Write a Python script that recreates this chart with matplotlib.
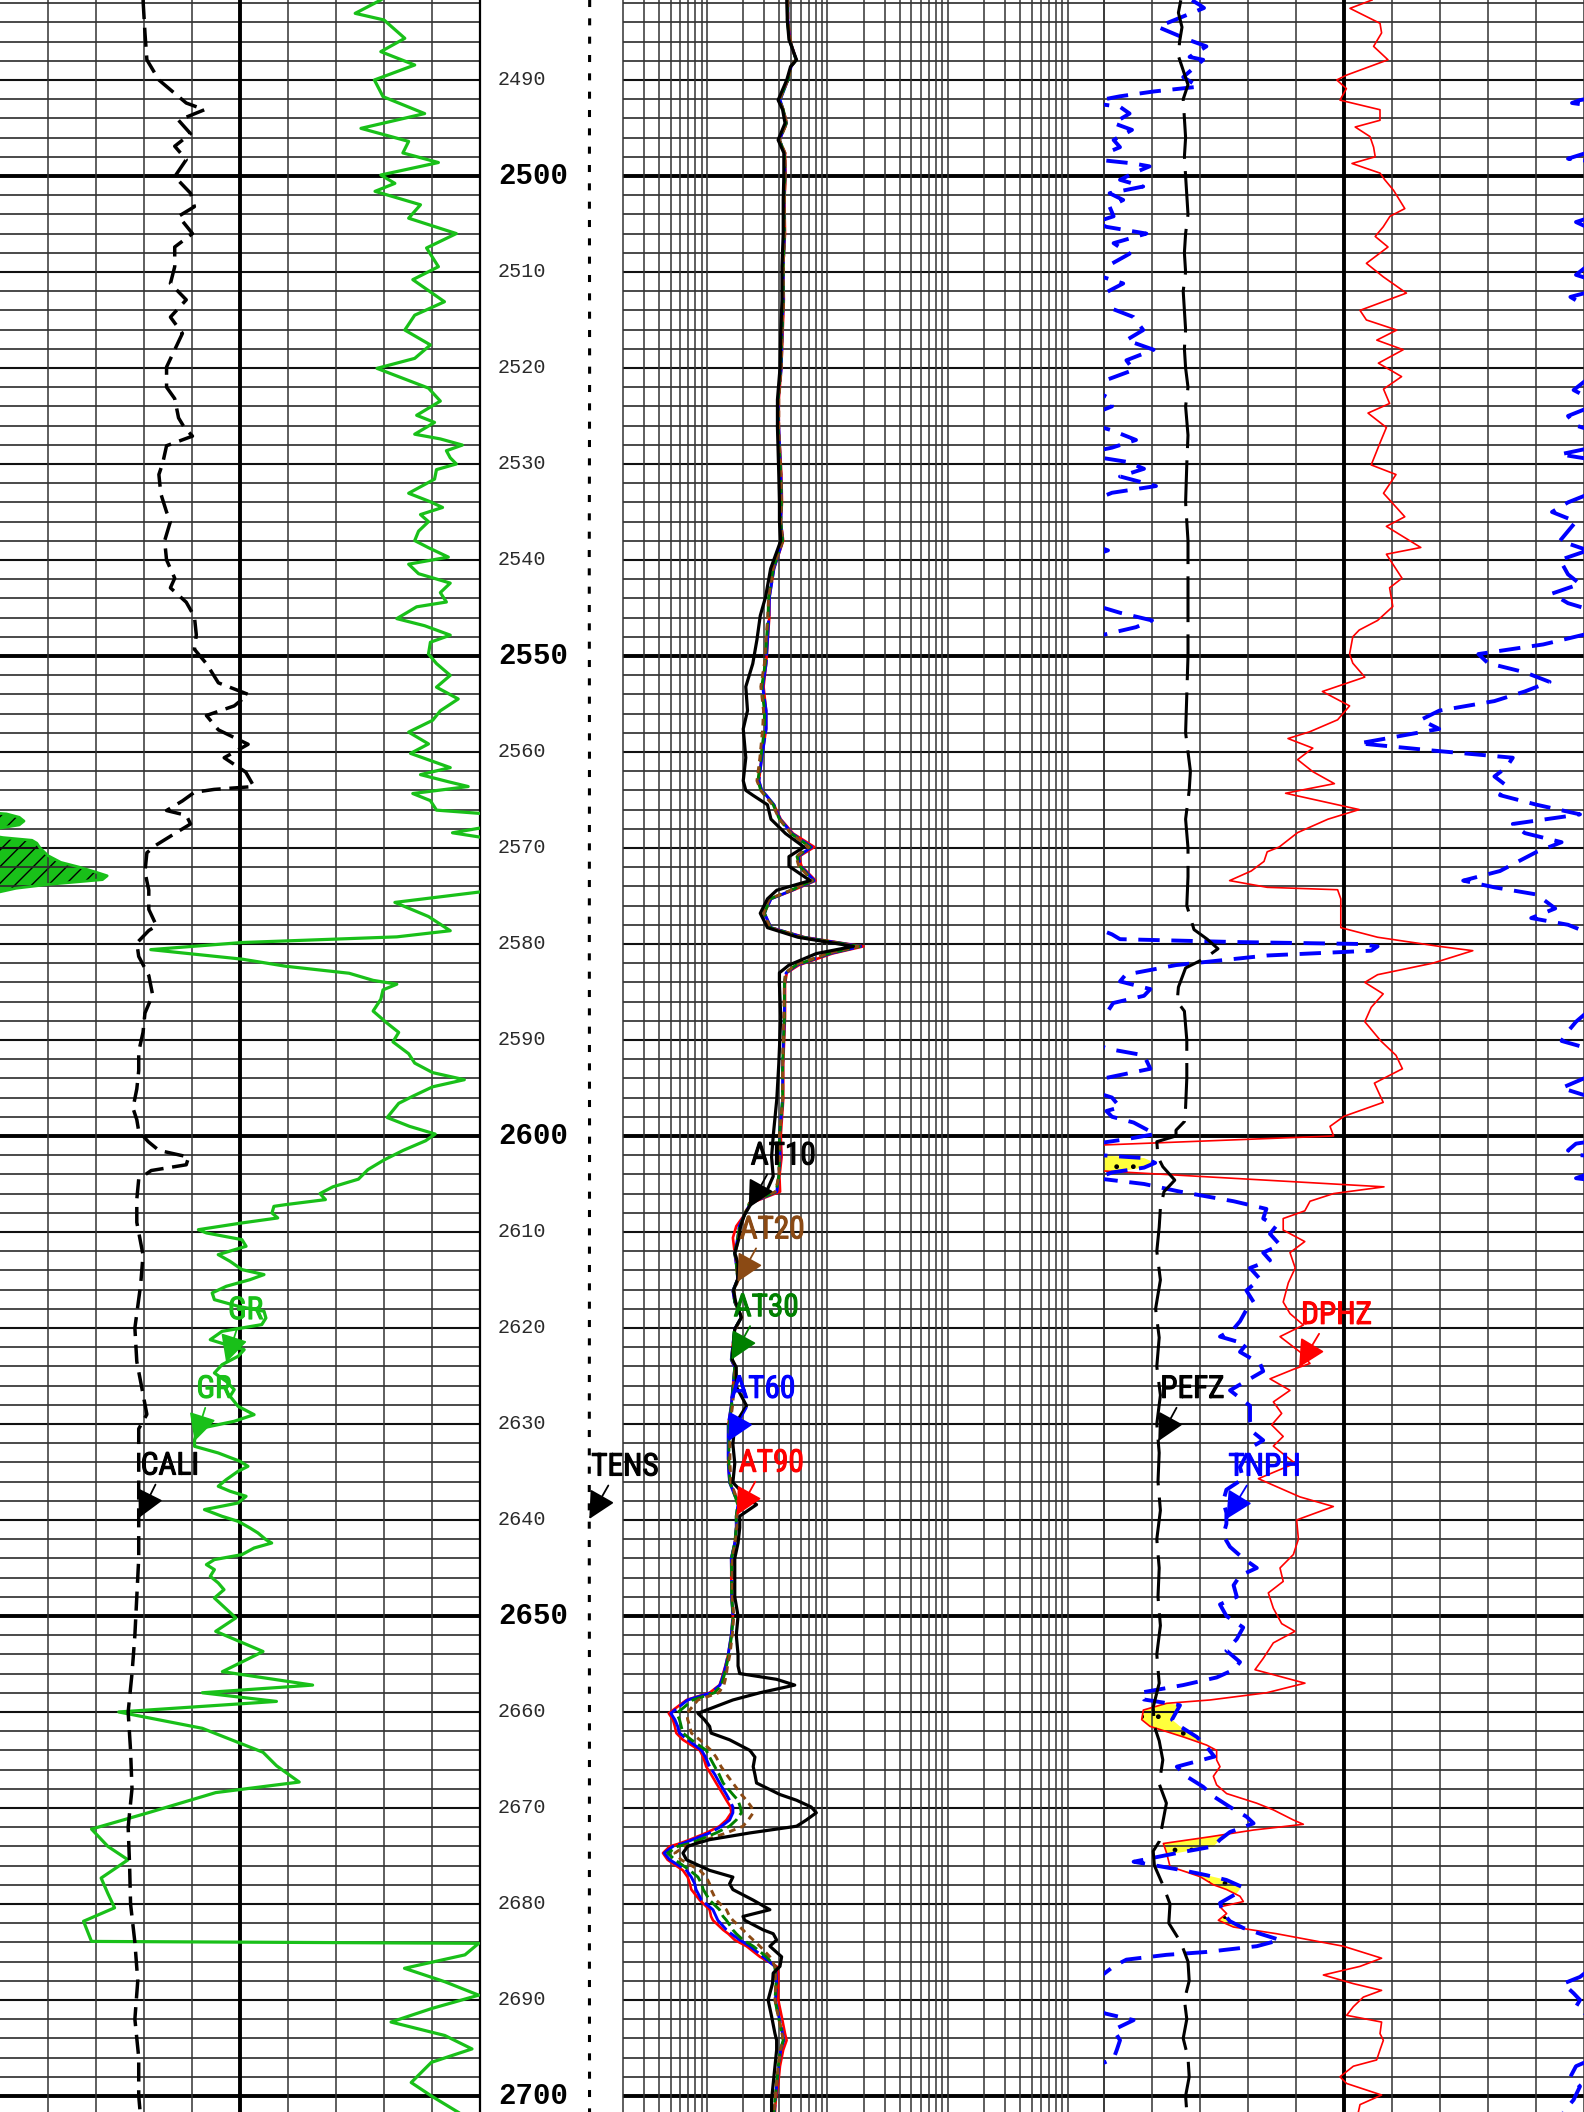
import os
import numpy as np
import matplotlib
matplotlib.use("Agg")
import matplotlib.pyplot as plt
import matplotlib.patheffects as pe
from matplotlib import font_manager
from matplotlib.font_manager import FontProperties

# ---------------- data ----------------
DEPTH_TOP = 2481.67
DEPTH_BOT = 2701.67

GR_SCALE = (0, 150)
CALI_SCALE = (6, 16)
RES_SCALE = (0.2, 2000)
POR_SCALE = (0.45, -0.15)
PEF_SCALE = (0, 20)
TENS_SCALE = (0, 10000)

GR_DEPTH = [2481.67, 2483.06, 2483.75, 2485.66, 2487.05, 2488.44, 2490.0, 2491.74, 2493.5, 2495.04,
            2496.4, 2497.6, 2498.6, 2499.9, 2500.77, 2501.6, 2503.0, 2504.4, 2506.0, 2507.5,
            2509.45, 2510.8, 2513.1, 2514.5, 2516.05, 2517.6, 2519.0, 2520.04, 2522.1, 2523.45,
            2524.93, 2525.67, 2526.9, 2527.39, 2528.03, 2528.62, 2529.36, 2530.0, 2530.59, 2531.58,
            2533.05, 2533.94, 2534.53, 2535.27, 2536.01, 2537.0, 2537.98, 2538.72, 2539.7, 2540.44,
            2541.43, 2541.92, 2542.41, 2543.4, 2544.38, 2544.88, 2546.11, 2546.85, 2547.83, 2548.57,
            2549.8, 2550.79, 2552.02, 2553.25, 2554.48, 2555.71, 2556.7, 2557.93, 2559.16, 2560.15,
            2561.63, 2562.36, 2563.1, 2563.6, 2564.33, 2565.07, 2566.06, 2566.45, 2566.8, 2567.2,
            2567.6, 2567.9, 2568.42, 2568.92, 2569.2, 2569.5, 2570.0, 2570.8, 2571.5, 2572.0,
            2572.5, 2572.9, 2573.3, 2573.8, 2574.2, 2574.58, 2575.67, 2577.14, 2578.62, 2579.26,
            2579.85, 2580.59, 2581.58, 2582.32, 2583.05, 2583.79, 2584.19, 2584.78, 2585.76, 2586.99,
            2588.23, 2589.21, 2590.2, 2591.43, 2592.41, 2593.4, 2594.14, 2594.88, 2595.86, 2596.6,
            2598.08, 2599.0, 2599.8, 2600.5, 2601.5, 2602.5, 2603.5, 2604.5, 2605.3, 2606.0,
            2606.63, 2607.15, 2607.33, 2608.02, 2608.54, 2609.06, 2609.76, 2610.1, 2610.8, 2611.49,
            2612.36, 2613.06, 2613.92, 2614.44, 2614.97, 2615.66, 2616.35, 2617.05, 2617.74, 2618.26,
            2618.96, 2619.65, 2620.35, 2621.22, 2621.74, 2622.26, 2622.95, 2623.82, 2624.69, 2625.56,
            2626.42, 2627.12, 2628.16, 2629.03, 2629.72, 2630.42, 2630.94, 2631.63, 2632.33, 2633.02,
            2633.89, 2634.41, 2634.93, 2635.8, 2636.49, 2637.01, 2637.53, 2638.23, 2638.92, 2639.62,
            2640.14, 2640.83, 2641.35, 2642.05, 2642.4, 2642.92, 2643.61, 2644.13, 2644.65, 2645.17,
            2645.87, 2646.56, 2647.26, 2648.13, 2650.2, 2651.6, 2653.7, 2655.8, 2657.2, 2658.0,
            2658.9, 2660.0, 2661.7, 2664.2, 2665.6, 2667.3, 2668.4, 2670.5, 2672.2, 2674.0,
            2675.4, 2677.3, 2678.9, 2680.4, 2681.8, 2683.9, 2684.1, 2685.3, 2686.7, 2688.1,
            2689.5, 2690.9, 2692.3, 2693.7, 2695.1, 2696.5, 2698.6, 2700.0, 2701.7]
GR = [119, 111, 120, 126.5, 119, 129.6, 117, 119.7, 132.7, 112.8,
      127.7, 125.9, 137, 119, 123.4, 117.2, 131.4, 127.7, 142.6, 133.3,
      137, 129, 138.9, 129.6, 126.5, 134.5, 129.6, 117.8, 133.9, 137.6,
      130.2, 135.8, 129.6, 137.6, 144.5, 139.5, 140.7, 142.6, 136.4, 135.8,
      127.7, 134.5, 138.3, 131.4, 133.9, 130.8, 129.6, 133.9, 140.1, 127.7,
      130.8, 135.8, 140.7, 137.6, 139.5, 130.2, 124, 132.7, 140.7, 134.5,
      133.9, 136.4, 140.7, 136.4, 143.2, 137.6, 135.2, 127.7, 133.9, 128.3,
      140.7, 131.4, 140.1, 146.3, 129, 134.5, 136.4, 152, 156, 157.5,
      156, 150.5, 141.4, 151, 160, 161.5, 162.5, 165, 169, 174.8,
      179.8, 183.5, 182, 165, 155, 150, 123.4, 133.9, 140.7, 124,
      75.6, 47.1, 75.6, 89.3, 109.1, 116.6, 124, 119.7, 119, 116.6,
      120.9, 124.6, 122.8, 127.7, 129.6, 135.2, 145.1, 135.2, 129, 124.6,
      121, 128, 136, 133, 126, 120, 115, 112, 104, 100,
      101.7, 89.3, 85.6, 85, 86.8, 75.6, 62, 64.5, 75.6, 76.9,
      68.2, 71.9, 75.6, 82.5, 78.1, 70.7, 66.3, 67, 74.4, 82.5,
      83.1, 81.8, 69.4, 65.7, 70.7, 76.3, 74.4, 69.4, 67, 70.7,
      73.2, 71.9, 74.4, 79.4, 73.2, 63.2, 61.4, 60.8, 60.8, 68.2,
      75, 77.5, 74.4, 70.7, 68.2, 71.9, 76.9, 74.4, 63.9, 69.4,
      74.4, 78.1, 80.6, 83.1, 84.9, 79.4, 75.6, 67, 64.5, 67,
      65.7, 68.2, 70, 67, 73.7, 67.4, 82.2, 69.5, 97.7, 63.2,
      86.4, 37.1, 63.2, 82.2, 86.4, 93.5, 67.4, 46.3, 28.6, 33.7,
      40, 31.6, 33.7, 35.8, 26.1, 28.6, 149.6, 145.3, 126.4, 139,
      149.6, 134.8, 122.2, 139, 147.5, 134.8, 128.5, 134.8, 143.2]

CALI_DEPTH = [2481.67, 2485.1, 2487.9, 2490.0, 2491.4, 2492.4, 2493.1, 2494.2, 2495.6, 2496.9,
              2498.3, 2500.07, 2501.8, 2503.2, 2504.2, 2506.0, 2507.4, 2509.45, 2511.2, 2512.9,
              2514.7, 2516.4, 2518.1, 2519.9, 2522.0, 2523.2, 2525.2, 2526.2, 2527.1, 2528.1,
              2529.9, 2531.1, 2533.1, 2535.0, 2536.0, 2538.0, 2540.0, 2541.9, 2542.9, 2544.4,
              2545.9, 2547.8, 2549.3, 2550.8, 2552.8, 2554.0, 2555.2, 2556.2, 2557.7, 2559.2,
              2560.6, 2562.1, 2563.6, 2563.9, 2564.2, 2565.1, 2566.1, 2566.6, 2567.5, 2568.5,
              2569.8, 2570.5, 2572.5, 2574.4, 2576.4, 2578.1, 2578.6, 2579.9, 2581.3, 2583.3,
              2585.3, 2587.2, 2589.2, 2591.2, 2593.2, 2595.1, 2597.1, 2598.3, 2599.5, 2600.6,
              2601.5, 2602.2, 2603.0, 2603.6, 2604.5, 2606.6, 2609.0, 2612.4, 2615.5, 2620.0,
              2623.5, 2629.0, 2630.5, 2634.0, 2639.0, 2644.0, 2648.0, 2652.0, 2656.0, 2660.0,
              2664.0, 2668.0, 2672.0, 2676.0, 2680.0, 2684.0, 2688.0, 2692.0, 2696.0, 2700.0, 2701.7]
CALI = [8.98, 9.02, 9.06, 9.31, 9.64, 9.88, 10.26, 9.72, 9.97, 9.64,
        9.88, 9.64, 9.97, 10.05, 9.72, 10.01, 9.64, 9.64, 9.55, 9.88,
        9.55, 9.80, 9.64, 9.47, 9.47, 9.64, 9.72, 9.84, 10.01, 9.47,
        9.39, 9.31, 9.35, 9.47, 9.55, 9.43, 9.47, 9.64, 9.55, 9.88,
        10.05, 10.09, 10.05, 10.30, 10.55, 11.17, 10.88, 10.30, 10.55, 11.17,
        10.67, 11.12, 11.29, 10.46, 10.05, 9.80, 9.47, 9.88, 9.97, 9.64,
        9.22, 9.06, 9.02, 9.10, 9.10, 9.26, 9.10, 8.85, 8.89, 9.10,
        9.18, 9.02, 8.98, 8.89, 8.89, 8.85, 8.77, 8.85, 8.89, 9.09,
        9.31, 9.93, 9.88, 9.15, 8.89, 8.85, 8.85, 8.98, 8.93, 8.81,
        8.85, 9.06, 8.89, 8.89, 8.89, 8.89, 8.85, 8.81, 8.75, 8.67,
        8.72, 8.75, 8.67, 8.70, 8.72, 8.81, 8.87, 8.81, 8.89, 8.89, 8.92]

TENS_DEPTH = [2481.67, 2500, 2520, 2540, 2560, 2580, 2600, 2620, 2640, 2660, 2680, 2701.7]
TENS = [7670, 7650, 7665, 7640, 7655, 7645, 7660, 7650, 7640, 7655, 7650, 7660]

RES_DEPTH = [2481.7, 2483.8, 2485.8, 2487.9, 2488.6, 2490.0, 2492.1, 2493.1, 2494.5, 2496.25,
             2497.6, 2500.0, 2502.5, 2506.0, 2509.4, 2512.9, 2516.4, 2519.9, 2523.3, 2526.2,
             2531.1, 2534.0, 2536.0, 2538.0, 2540.9, 2543.9, 2545.8, 2548.3, 2550.8, 2553.2,
             2555.7, 2557.6, 2560.6, 2563.0, 2564.0, 2564.5, 2565.5, 2567.0, 2568.5, 2569.9,
             2570.9, 2571.9, 2573.4, 2574.4, 2575.3, 2576.8, 2578.3, 2579.3, 2580.25, 2581.0,
             2582.2, 2583.0, 2584.2, 2587.6, 2592.5, 2596.2,
             2600.0, 2602.2, 2604.2, 2605.8, 2607.0, 2608.2, 2609.4, 2610.6, 2612.2, 2613.3,
             2614.9, 2616.1, 2617.3, 2618.9, 2620.1, 2621.7, 2623.3, 2624.1, 2626.1, 2628.1,
             2630.1, 2632.1, 2634.1, 2636.1, 2637.6, 2638.4, 2639.6, 2640.8, 2642.4, 2644.0,
             2646.0, 2648.0, 2650.0, 2652.0, 2654.0, 2655.2, 2656.0, 2656.6, 2657.2, 2658.0,
             2658.75, 2660.14, 2660.8, 2661.5, 2662.2, 2662.9, 2664.0, 2664.7, 2665.7, 2666.5,
             2667.4, 2668.6, 2669.2, 2669.9, 2670.5, 2671.25, 2671.9, 2672.6, 2673.3, 2673.7,
             2674.0, 2674.7, 2675.4, 2676.5, 2677.2, 2677.9, 2678.5, 2679.6, 2680.6, 2681.3,
             2681.7, 2682.7, 2683.1, 2683.75, 2684.4, 2685.5, 2686.5, 2687.2, 2688.3, 2690.0,
             2691.7, 2693.5, 2694.2, 2695.2, 2696.9, 2698.7, 2700.4, 2701.7]
AT90 = [4.7, 4.7, 4.9, 5.5, 5.0, 4.7, 4.0, 4.3, 4.6, 4.0,
        4.45, 4.5, 4.4, 4.45, 4.3, 4.35, 4.25, 4.15, 3.95, 3.95,
        4.15, 4.2, 4.1, 4.3, 3.6, 3.3, 3.3, 3.2, 3.1, 2.95,
        3.1, 3.1, 2.85, 2.7, 2.85, 3.1, 3.6, 4.1, 5.2, 7.8,
        5.8, 6.1, 8.0, 5.2, 3.4, 3.0, 3.4, 6.5, 20.0, 11.0,
        5.8, 4.6, 4.45, 4.45, 4.3, 4.3,
        4.1, 4.17, 4.0, 4.05, 2.3, 2.05, 1.75, 1.64, 1.7, 1.75,
        1.8, 1.64, 1.7, 1.93, 1.7, 1.64, 1.59, 1.7, 1.64, 1.59,
        1.5, 1.5, 1.5, 1.54, 1.75, 1.93, 1.75, 1.75, 1.7, 1.59,
        1.59, 1.6, 1.64, 1.59, 1.5, 1.42, 1.36, 1.32, 1.27, 1.05,
        0.675, 0.48, 0.52, 0.54, 0.555, 0.63, 0.87, 0.93, 0.985, 1.08,
        1.19, 1.36, 1.45, 1.57, 1.59, 1.45, 1.27, 0.985, 0.72, 0.59,
        0.49, 0.43, 0.47, 0.63, 0.69, 0.72, 0.74, 0.87, 1.05, 1.08,
        1.12, 1.36, 1.5, 1.7, 2.13, 2.75, 3.79, 3.91, 3.91, 3.91,
        4.17, 4.45, 4.59, 4.3, 4.04, 3.91, 3.73, 3.67]
AT60 = [4.7, 4.7, 4.85, 5.5, 5.0, 4.7, 4.05, 4.3, 4.55, 4.0,
        4.4, 4.45, 4.35, 4.4, 4.3, 4.3, 4.2, 4.15, 3.9, 3.95,
        4.1, 4.15, 4.1, 4.25, 3.6, 3.3, 3.27, 3.18, 3.1, 2.9,
        3.1, 3.1, 2.85, 2.7, 2.85, 3.1, 3.6, 4.05, 5.1, 7.4,
        5.7, 6.0, 7.8, 5.1, 3.4, 3.0, 3.4, 6.3, 19.0, 10.5,
        5.6, 4.55, 4.4, 4.4, 4.25, 4.25,
        4.0, 4.05, 3.95, 3.8, 2.3, 2.05, 1.85, 1.8, 1.7, 1.75,
        1.8, 1.64, 1.7, 1.93, 1.7, 1.64, 1.59, 1.7, 1.64, 1.59,
        1.5, 1.5, 1.5, 1.54, 1.72, 1.81, 1.75, 1.75, 1.7, 1.59,
        1.6, 1.6, 1.64, 1.59, 1.5, 1.43, 1.38, 1.33, 1.28, 1.08,
        0.69, 0.5, 0.54, 0.57, 0.59, 0.69, 0.9, 0.97, 1.05, 1.16,
        1.27, 1.45, 1.54, 1.64, 1.64, 1.54, 1.32, 1.05, 0.76, 0.63,
        0.52, 0.44, 0.49, 0.675, 0.74, 0.79, 0.81, 0.9, 1.12, 1.19,
        1.23, 1.45, 1.59, 1.87, 2.27, 2.93, 3.67, 3.75, 3.79, 3.7,
        3.95, 4.25, 4.35, 4.1, 3.95, 3.8, 3.7, 3.62]
AT30 = [4.7, 4.65, 4.85, 5.5, 5.0, 4.7, 4.0, 4.3, 4.55, 4.0,
        4.4, 4.45, 4.35, 4.4, 4.3, 4.3, 4.2, 4.1, 3.9, 3.9,
        4.1, 4.15, 4.1, 4.25, 3.55, 3.25, 3.22, 3.12, 3.05, 2.85,
        3.0, 3.0, 2.8, 2.65, 2.8, 3.05, 3.55, 4.0, 5.0, 7.2,
        5.6, 5.9, 7.6, 5.0, 3.35, 3.0, 3.35, 6.2, 18.5, 10.2,
        5.5, 4.5, 4.4, 4.4, 4.25, 4.25,
        4.0, 4.0, 3.95, 3.75, 2.25, 2.05, 1.87, 1.8, 1.7, 1.75,
        1.8, 1.65, 1.7, 1.93, 1.7, 1.65, 1.6, 1.7, 1.65, 1.6,
        1.52, 1.52, 1.52, 1.55, 1.72, 1.8, 1.75, 1.75, 1.7, 1.6,
        1.6, 1.6, 1.65, 1.6, 1.52, 1.45, 1.4, 1.36, 1.32, 1.15,
        0.76, 0.56, 0.59, 0.61, 0.63, 0.74, 0.985, 1.05, 1.16, 1.26,
        1.36, 1.64, 1.81, 1.89, 1.93, 1.75, 1.54, 1.19, 0.87, 0.72,
        0.57, 0.47, 0.54, 0.72, 0.84, 0.9, 0.93, 1.05, 1.27, 1.36,
        1.45, 1.64, 1.75, 1.99, 2.42, 3.12, 3.67, 3.7, 3.75, 3.67,
        3.91, 4.2, 4.3, 4.07, 3.91, 3.79, 3.67, 3.6]
AT20 = [4.7, 4.7, 4.9, 5.45, 5.0, 4.7, 4.0, 4.3, 4.6, 4.0,
        4.45, 4.45, 4.4, 4.4, 4.3, 4.3, 4.2, 4.15, 3.95, 3.95,
        4.1, 4.15, 4.1, 4.25, 3.55, 3.25, 3.2, 3.1, 3.0, 2.8,
        2.95, 2.9, 2.75, 2.6, 2.8, 3.0, 3.5, 4.0, 5.0, 7.0,
        5.5, 5.8, 7.5, 5.0, 3.3, 2.95, 3.35, 6.0, 18.0, 10.0,
        5.4, 4.5, 4.4, 4.35, 4.25, 4.25,
        4.0, 4.0, 3.95, 3.7, 2.25, 2.05, 1.9, 1.83, 1.72, 1.77,
        1.83, 1.68, 1.72, 1.95, 1.72, 1.67, 1.62, 1.72, 1.68, 1.63,
        1.55, 1.55, 1.55, 1.58, 1.75, 1.83, 1.77, 1.77, 1.72, 1.62,
        1.62, 1.62, 1.67, 1.62, 1.55, 1.48, 1.45, 1.42, 1.38, 1.25,
        0.84, 0.68, 0.69, 0.72, 0.74, 0.87, 1.08, 1.19, 1.31, 1.45,
        1.64, 1.93, 2.13, 2.34, 2.42, 2.2, 1.99, 1.45, 0.985, 0.81,
        0.65, 0.54, 0.61, 0.87, 0.985, 1.05, 1.08, 1.19, 1.45, 1.54,
        1.64, 1.99, 2.13, 2.42, 2.75, 3.33, 3.67, 3.7, 3.73, 3.67,
        3.91, 4.2, 4.3, 4.07, 3.91, 3.79, 3.67, 3.6]
AT10 = [4.6, 4.65, 4.8, 5.55, 4.95, 4.6, 3.9, 4.25, 4.45, 3.9,
        4.35, 4.35, 4.3, 4.3, 4.2, 4.2, 4.1, 4.05, 3.85, 3.85,
        3.95, 4.0, 4.0, 4.1, 3.38, 3.06, 2.77, 2.6, 2.4, 2.1,
        2.17, 2.0, 2.1, 2.0, 2.1, 2.4, 3.18, 3.4, 4.5, 6.4,
        4.8, 4.8, 7.2, 3.8, 3.18, 2.77, 3.18, 5.7, 16.5, 8.1,
        4.8, 4.0, 4.0, 4.1, 3.95, 3.8,
        3.55, 3.44, 3.55, 3.12, 2.34, 2.05, 1.9, 1.85, 1.7, 1.81,
        1.8, 1.66, 1.73, 1.93, 1.7, 1.66, 1.62, 1.75, 1.75, 2.13,
        1.7, 1.64, 1.7, 1.64, 2.13, 2.58, 1.87, 1.87, 1.81, 1.7,
        1.7, 1.7, 1.81, 1.75, 1.81, 1.81, 1.87, 3.79, 5.36, 2.75,
        1.64, 0.84, 0.95, 1.05, 1.08, 1.54, 2.27, 2.5, 2.42, 2.5,
        2.58, 4.04, 5.56, 7.35, 8.1, 6.7, 5.56, 2.27, 1.05, 0.81,
        0.69, 0.63, 0.675, 1.05, 1.64, 1.54, 1.64, 2.42, 3.33, 1.99,
        2.06, 2.93, 3.55, 3.79, 3.33, 4.17, 4.04, 3.55, 3.5, 3.22,
        3.44, 3.67, 3.79, 3.79, 3.67, 3.55, 3.44, 3.44]

DPHZ_DEPTH = [2481.67, 2482.54, 2484.1, 2485.1, 2486.5, 2487.9, 2489.5, 2490.0, 2490.9, 2492.1,
              2493.1, 2494.2, 2494.9, 2495.9, 2497.0, 2498.0, 2498.7, 2499.7, 2500.4, 2501.5,
              2503.4, 2504.2, 2505.3, 2506.3, 2507.4, 2509.1, 2510.5, 2512.2, 2514.0, 2515.0,
              2516.05, 2517.1, 2518.1, 2519.5, 2520.9, 2522.2, 2523.7, 2524.7, 2526.2, 2527.6,
              2530.1, 2531.1, 2533.05, 2535.5, 2536.5, 2538.7, 2539.4, 2541.9, 2542.9, 2544.85,
              2546.3, 2547.3, 2548.0, 2549.8, 2550.75, 2552.2, 2553.7, 2555.2, 2556.65, 2557.9,
              2558.6, 2559.6, 2560.8, 2562.05, 2563.3, 2564.3, 2565.0, 2566.0, 2567.0, 2568.4,
              2569.9, 2570.4, 2571.4, 2572.4, 2573.4, 2574.1, 2574.35, 2575.3, 2578.3, 2579.3,
              2580.25, 2580.7, 2582.0, 2583.2, 2584.0, 2585.2, 2586.6, 2588.1, 2590.1, 2591.6,
              2593.0, 2594.5, 2596.5, 2597.95, 2599.0, 2600.0, 2601.0, 2603.4, 2603.6, 2605.3,
              2606.0, 2606.8, 2607.8, 2608.6, 2609.8, 2611.0, 2612.15, 2613.75, 2615.3, 2617.3,
              2618.5, 2619.7, 2620.9, 2622.5, 2623.7, 2624.3, 2625.3, 2626.5, 2627.7, 2628.9,
              2630.1, 2631.3, 2632.3, 2634.1, 2635.7, 2637.6, 2638.6, 2640.0, 2642.0, 2643.6,
              2645.0, 2646.4, 2647.6, 2649.2, 2650.8, 2651.6, 2652.8, 2654.4, 2655.6, 2657.0,
              2658.0, 2658.75, 2659.1, 2659.8, 2660.8, 2661.5, 2662.6, 2663.45, 2664.0, 2665.0,
              2665.7, 2666.7, 2667.6, 2668.5, 2669.5, 2670.2, 2671.25, 2671.7, 2672.3, 2673.0,
              2673.7, 2674.7, 2676.1, 2677.15, 2678.0, 2678.5, 2679.2, 2679.75, 2680.3, 2681.0,
              2681.7, 2682.4, 2683.1, 2684.4, 2685.65, 2686.5, 2687.4, 2688.3, 2689.0, 2689.7,
              2690.7, 2691.6, 2692.3, 2693.5, 2694.2, 2695.2, 2696.25, 2696.9, 2698.0, 2698.7,
              2699.9, 2700.9, 2701.7]
DPHZ = [0.115, 0.1425, 0.105, 0.103, 0.113, 0.095, 0.147, 0.159, 0.147, 0.155,
        0.105, 0.105, 0.136, 0.1175, 0.113, 0.111, 0.140, 0.105, 0.099, 0.088,
        0.074, 0.0925, 0.101, 0.111, 0.095, 0.122, 0.101, 0.072, 0.130, 0.122,
        0.084, 0.109, 0.076, 0.107, 0.078, 0.1006, 0.093, 0.120, 0.097, 0.104,
        0.116, 0.085, 0.1006, 0.074, 0.097, 0.054, 0.097, 0.0775, 0.093, 0.089,
        0.108, 0.131, 0.139, 0.143, 0.139, 0.124, 0.177, 0.143, 0.158, 0.193,
        0.220, 0.189, 0.208, 0.189, 0.162, 0.223, 0.185, 0.131, 0.170, 0.208,
        0.231, 0.246, 0.250, 0.266, 0.293, 0.246, 0.158, 0.154, 0.154, 0.108,
        0.031, -0.011, 0.039, 0.108, 0.124, 0.101, 0.116, 0.124, 0.104, 0.085,
        0.077, 0.112, 0.101, 0.150, 0.1675, 0.163, 0.47, 0.48, 0.46, 0.10,
        0.163, 0.1925, 0.199, 0.226, 0.226, 0.199, 0.2175, 0.211, 0.2196, 0.226,
        0.2175, 0.2008, 0.23, 0.205, 0.1925, 0.213, 0.2425, 0.2175, 0.2383, 0.2279,
        0.2404, 0.226, 0.2383, 0.2113, 0.257, 0.205, 0.1633, 0.2092, 0.207, 0.2133,
        0.23, 0.226, 0.2446, 0.2383, 0.2279, 0.2113, 0.2383, 0.2508, 0.2613, 0.1988,
        0.2467, 0.3175, 0.3717, 0.4008, 0.4029, 0.3925, 0.3508, 0.3217, 0.3092, 0.3092,
        0.305, 0.3133, 0.3092, 0.2967, 0.2592, 0.2383, 0.2133, 0.2008, 0.2633, 0.3175,
        0.3758, 0.3717, 0.3675, 0.33, 0.3133, 0.2967, 0.28, 0.2758, 0.305, 0.2967,
        0.3071, 0.2883, 0.2342, 0.1508, 0.103, 0.13, 0.1758, 0.1383, 0.103, 0.1258,
        0.1383, 0.1467, 0.103, 0.105, 0.1008, 0.105, 0.1092, 0.1383, 0.155, 0.1467,
        0.103, 0.13, 0.1321]

TNPH_DEPTH = [2481.7, 2482.2, 2482.5, 2484.1, 2484.5, 2485.8, 2486.5, 2487.6, 2487.9, 2489.7,
              2490.7, 2491.2, 2491.7, 2492.1, 2492.4, 2492.8, 2493.5, 2494.5, 2495.2, 2496.25,
              2497.0, 2497.6, 2498.2, 2498.7, 2499.0, 2499.7, 2500.4, 2501.1, 2501.8, 2502.5,
              2503.2, 2504.2, 2504.8, 2505.3, 2506.0, 2507.0, 2508.1, 2509.45, 2510.3, 2511.2,
              2512.2, 2512.6, 2513.6, 2514.7, 2516.05, 2517.1, 2518.1, 2519.2, 2520.2, 2521.25,
              2522.3, 2523.3, 2524.0, 2525.0, 2526.0, 2526.5, 2527.5, 2528.3, 2529.0, 2529.8,
              2530.5, 2531.3, 2532.3, 2533.0, 2534.0, 2535.0, 2536.0, 2537.0, 2538.0, 2539.0,
              2540.0, 2541.5, 2542.5, 2543.5, 2544.5, 2545.5, 2546.3, 2547.0, 2547.8, 2548.8,
              2549.8, 2550.75, 2551.7, 2552.7, 2553.7, 2554.7, 2555.7, 2556.65, 2557.6, 2559.1,
              2559.85, 2560.6, 2561.6, 2562.55, 2563.5, 2564.5, 2565.5, 2566.5, 2567.5, 2568.45,
              2569.4, 2570.4, 2571.4, 2572.4, 2573.4, 2574.1, 2574.85, 2576.3, 2577.3, 2578.0,
              2579.0, 2579.5, 2579.8, 2580.0, 2580.25, 2580.7, 2581.2, 2582.2, 2583.2, 2583.9,
              2584.7, 2585.4, 2586.15, 2587.1, 2588.1, 2589.1, 2590.1, 2591.0, 2591.6, 2593.0,
              2594.0, 2595.0, 2596.0, 2597.0, 2597.4, 2598.0, 2598.6, 2599.8, 2600.3, 2600.8,
              2601.5, 2602.0, 2602.3, 2602.8, 2603.3, 2603.8, 2604.4, 2605.0, 2605.8, 2606.8,
              2607.6, 2608.6, 2609.4, 2610.2, 2611.35, 2612.15, 2612.95, 2613.75, 2614.9, 2616.1,
              2617.3, 2618.1, 2619.3, 2620.1, 2620.9, 2621.7, 2622.5, 2623.7, 2624.5, 2625.3,
              2626.5, 2627.3, 2628.1, 2629.7, 2630.9, 2631.7, 2632.5, 2634.5, 2635.7, 2636.85,
              2638.05, 2639.25, 2640.4, 2641.6, 2642.8, 2644.0, 2645.0, 2645.8, 2646.8, 2648.0,
              2648.8, 2650.0, 2651.2, 2652.4, 2653.6, 2654.8, 2655.6, 2656.4, 2657.2, 2658.0,
              2658.7, 2659.3, 2660.8, 2661.5, 2662.6, 2663.6, 2664.65, 2665.7, 2666.7, 2667.8,
              2668.8, 2669.9, 2670.9, 2671.6, 2672.5, 2673.3, 2674.0, 2674.7, 2675.6, 2675.9,
              2676.5, 2677.0, 2677.5, 2678.2, 2678.9, 2679.9, 2681.0, 2681.8, 2682.5, 2683.1,
              2683.75, 2684.4, 2685.0, 2685.3, 2685.8, 2686.5, 2687.6, 2688.3, 2689.3, 2690.0,
              2690.7, 2691.4, 2692.1, 2693.1, 2694.2, 2695.2, 2696.1, 2696.9, 2698.0, 2699.0,
              2700.4, 2701.7]
TNPH = [0.34, 0.33, 0.325, 0.372, 0.382, 0.345, 0.322, 0.343, 0.326, 0.351,
        0.332, 0.388, 0.43, 0.455, 0.465, 0.43, 0.418, 0.438, 0.415, 0.438,
        0.43, 0.447, 0.47, 0.413, 0.393, 0.413, 0.43, 0.401, 0.443, 0.426,
        0.443, 0.438, 0.46, 0.447, 0.397, 0.438, 0.418, 0.447, 0.46, 0.426,
        0.449, 0.467, 0.447, 0.413, 0.401, 0.422, 0.388, 0.422, 0.413, 0.447,
        0.463, 0.44, 0.44, 0.47, 0.46, 0.44, 0.41, 0.44, 0.48, 0.42,
        0.40, 0.43, 0.385, 0.44, 0.47, 0.49, 0.46, 0.47, 0.48, 0.445,
        0.48, 0.47, 0.455, 0.49, 0.47, 0.43, 0.39, 0.41, 0.451, 0.501,
        0.582, 0.57, 0.524, 0.493, 0.524, 0.562, 0.631, 0.654, 0.631, 0.731,
        0.639, 0.539, 0.547, 0.562, 0.547, 0.555, 0.509, 0.455, 0.539, 0.524,
        0.478, 0.509, 0.532, 0.555, 0.601, 0.562, 0.509, 0.486, 0.516, 0.47,
        0.44, 0.43, 0.285, 0.131, 0.108, 0.116, 0.246, 0.36, 0.423, 0.43,
        0.392, 0.40, 0.4385, 0.446, 0.46, 0.47, 0.478, 0.44, 0.40, 0.392,
        0.45, 0.478, 0.44, 0.43, 0.447, 0.44, 0.413, 0.386, 0.42, 0.46,
        0.47, 0.455, 0.40, 0.386, 0.40, 0.44, 0.46, 0.40, 0.355, 0.288,
        0.247, 0.251, 0.235, 0.2425, 0.23, 0.251, 0.2425, 0.2675, 0.255, 0.272,
        0.263, 0.272, 0.28, 0.288, 0.305, 0.272, 0.28, 0.255, 0.251, 0.2675,
        0.2925, 0.28, 0.2675, 0.2675, 0.263, 0.251, 0.2675, 0.28, 0.276, 0.297,
        0.301, 0.297, 0.297, 0.301, 0.2925, 0.276, 0.259, 0.28, 0.288, 0.284,
        0.305, 0.297, 0.276, 0.284, 0.297, 0.28, 0.288, 0.309, 0.351, 0.405,
        0.40, 0.355, 0.365, 0.355, 0.334, 0.322, 0.312, 0.359, 0.347, 0.326,
        0.313, 0.2925, 0.272, 0.263, 0.2925, 0.305, 0.313, 0.359, 0.413, 0.392,
        0.351, 0.322, 0.297, 0.278, 0.284, 0.305, 0.301, 0.2925, 0.276, 0.255,
        0.23, 0.259, 0.322, 0.372, 0.422, 0.438, 0.455, 0.476, 0.463, 0.455,
        0.46, 0.449, 0.413, 0.438, 0.43, 0.434, 0.438, 0.46, 0.467, 0.455,
        0.463, 0.476]

PEFZ_DEPTH = [2481.7, 2483, 2484.5, 2486, 2487.5, 2489, 2490.5, 2492, 2494, 2496,
              2498, 2500, 2502, 2504, 2506, 2508, 2510, 2512, 2514, 2516,
              2518, 2520, 2522, 2524, 2527, 2530, 2534, 2538, 2542, 2546,
              2550, 2554, 2558, 2562, 2564, 2567, 2570, 2573, 2576, 2578.5,
              2579.5, 2580.5, 2581.5, 2582.5, 2584.5, 2586.0, 2587.0, 2590, 2594, 2597,
              2598.5, 2599.4, 2600.0, 2600.6, 2602.2, 2603.2, 2604.6, 2605.8, 2607.5, 2609.5,
              2612, 2615, 2618, 2621, 2624, 2627, 2630, 2633, 2636, 2639,
              2642, 2645, 2648, 2651, 2654, 2657, 2659.5, 2661.5, 2663, 2665,
              2667.5, 2669.5, 2671.5, 2673.5, 2674.5, 2676, 2678, 2680, 2682, 2684,
              2686, 2688, 2690, 2692, 2694, 2696, 2698, 2700, 2701.7]
PEFZ = [3.2, 3.1, 3.25, 3.15, 3.1, 3.3, 3.5, 3.3, 3.35, 3.4,
        3.35, 3.4, 3.45, 3.5, 3.4, 3.35, 3.4, 3.3, 3.35, 3.4,
        3.35, 3.4, 3.5, 3.4, 3.5, 3.45, 3.4, 3.5, 3.5, 3.5,
        3.5, 3.45, 3.4, 3.6, 3.55, 3.4, 3.5, 3.5, 3.45, 3.75,
        4.3, 4.75, 4.2, 3.4, 3.1, 3.05, 3.35, 3.45, 3.45, 3.4,
        3.35, 3.0, 3.0, 2.2, 2.25, 2.45, 2.95, 2.5, 2.35, 2.3,
        2.2, 2.35, 2.15, 2.3, 2.2, 2.35, 2.2, 2.3, 2.25, 2.35,
        2.2, 2.3, 2.25, 2.35, 2.2, 2.3, 2.05, 2.1, 2.3, 2.45,
        2.3, 2.6, 2.45, 2.3, 2.05, 2.1, 2.45, 2.75, 2.7, 3.2,
        3.5, 3.55, 3.35, 3.45, 3.3, 3.5, 3.55, 3.4, 3.45]

DEPTH_LABELS = list(range(2490, 2701, 10))
LABEL_NAMES = ['AT10', 'AT20', 'AT30', 'AT60', 'AT90', 'TENS', 'CALI', 'GR', 'GR', 'PEFZ', 'TNPH', 'DPHZ']
LABEL_DEPTHS = [2607.5, 2615.2, 2623.3, 2631.8, 2639.5, 2639.9, 2639.8, 2623.6, 2631.8, 2631.8, 2639.9, 2624.1]


def arr(d, v):
    d = np.asarray(d, float)
    v = np.asarray(v, float)
    n = min(len(d), len(v))
    return d[:n], v[:n]


# ---------------- fonts ----------------
def find_condensed():
    prio = ['liberation sans narrow', 'arial narrow', 'roboto condensed', 'noto sans',
            'open sans', 'dejavu sans']
    found = []
    for f in font_manager.fontManager.ttflist:
        nm = f.name.lower()
        fn = os.path.basename(f.fname).lower()
        st = str(f.stretch).lower()
        if f.style != 'normal':
            continue
        narrow = ('narrow' in nm or 'narrow' in fn or 'condensed' in nm or 'condensed' in fn
                  or st == 'condensed')
        if not narrow:
            continue
        if any(x in fn for x in ('semicondensed', 'extracondensed', 'ultracondensed',
                                 'semi-condensed', 'extra-condensed', 'semi_condensed')):
            continue
        stripped = fn.replace('condensed', '').replace('narrow', '')
        if any(b in stripped for b in ('bold', 'italic', 'oblique', 'light', 'thin',
                                       'black', 'medium', 'semi', 'extra', 'ultra', 'mono')):
            continue
        rank = len(prio)
        for i, p in enumerate(prio):
            if nm.startswith(p):
                rank = i
                break
        found.append((rank, f.fname))
    found.sort()
    return found[0][1] if found else None


COND_PATH = find_condensed()
avail = {f.name for f in font_manager.fontManager.ttflist}
MONO_FONT = [f for f in ['Liberation Mono', 'DejaVu Sans Mono'] if f in avail] + ['DejaVu Sans']
if COND_PATH:
    LABEL_FP = FontProperties(fname=COND_PATH, size=22.5)
else:
    LABEL_FP = FontProperties(family=['Liberation Sans', 'DejaVu Sans'], size=20)

# ---------------- style ----------------
plt.rcParams['hatch.color'] = 'black'
plt.rcParams['hatch.linewidth'] = 1.0

C_GR = '#19c019'
C_BROWN = '#8b4a14'
C_GREEN = '#008000'
C_YELLOW = '#ffff3c'
GRID_V = '#333333'

W, H = 1584, 2112
fig = plt.figure(figsize=(W / 100, H / 100), dpi=100)
fig.patch.set_facecolor('white')


def clean(ax):
    ax.set_xticks([])
    ax.set_xticks([], minor=True)
    ax.set_yticks([])
    ax.set_yticks([], minor=True)
    for s in ax.spines.values():
        s.set_visible(False)


def make_axes(x0, w, xlim, log=False):
    ax = fig.add_axes([x0 / W, 0, w / W, 1])
    if log:
        ax.set_xscale('log')
    ax.set_xlim(*xlim)
    ax.set_ylim(DEPTH_BOT, DEPTH_TOP)
    clean(ax)
    ax.patch.set_visible(False)
    return ax


def make_twin(ax, xlim):
    tw = ax.twiny()
    tw.set_xlim(*xlim)
    clean(tw)
    tw.patch.set_visible(False)
    return tw


def hgrid(ax):
    for d in np.arange(2482, 2702, 2):
        if d % 50 == 0:
            lw, c = 2.8, 'black'
        elif d % 10 == 0:
            lw, c = 1.5, '#111111'
        else:
            lw, c = 1.2, '#2a2a2a'
        ax.axhline(d, color=c, lw=lw, zorder=2)


def label(ax, name, color, xval, depth):
    ax.annotate(name, xy=(xval, depth), xycoords='data',
                xytext=(2, 52), textcoords='offset pixels',
                ha='left', va='center', fontproperties=LABEL_FP, color=color,
                path_effects=[pe.withStroke(linewidth=0.8, foreground=color)],
                arrowprops=dict(arrowstyle='-|>,head_length=0.75,head_width=0.38',
                                color=color, lw=1.3, shrinkA=1, shrinkB=0,
                                relpos=(0.3, 0.05)),
                zorder=20, annotation_clip=False)


# ---------------- Track 1: GR / CALI ----------------
ax1 = make_axes(0, 480, GR_SCALE)
gd, gv = arr(GR_DEPTH, GR)
gwrap = gv - (GR_SCALE[1] - GR_SCALE[0])
ax1.fill_betweenx(gd, 0, gwrap, where=gwrap > 0, interpolate=True,
                  facecolor=C_GR, edgecolor='black', hatch='//', linewidth=0, zorder=1)
hgrid(ax1)
for i, x in enumerate(np.linspace(GR_SCALE[0], GR_SCALE[1], 11)):
    if i == 5:
        ax1.axvline(x, color='black', lw=2.8, zorder=2)
    elif i == 10:
        ax1.axvline(x, color='black', lw=1.6, zorder=2, clip_on=False)
    elif i > 0:
        ax1.axvline(x, color=GRID_V, lw=1.1, zorder=2)
ax1.plot(gv, gd, color=C_GR, lw=2.3, zorder=4)
ax1.plot(gwrap, gd, color=C_GR, lw=2.0, zorder=4)

ax1c = make_twin(ax1, CALI_SCALE)
cd, cv = arr(CALI_DEPTH, CALI)
ax1c.plot(cv, cd, color='black', lw=2.5, linestyle=(0, (5.5, 2.5)), zorder=3)

# ---------------- Track 2: resistivity ----------------
ax2 = make_axes(623, 481, RES_SCALE, log=True)
hgrid(ax2)
for e in range(-1, 4):
    for m in range(1, 10):
        v = m * 10.0 ** e
        if RES_SCALE[0] - 1e-9 <= v <= RES_SCALE[1] + 1e-9:
            ax2.axvline(v, color=GRID_V, lw=1.1, zorder=2, clip_on=False)
rd = np.asarray(RES_DEPTH, float)
res_curves = [
    ('AT90', AT90, 'red', 1.9, '-'),
    ('AT60', AT60, 'blue', 2.1, (0, (12, 1.5))),
    ('AT30', AT30, C_GREEN, 2.1, (0, (4.5, 1.7))),
    ('AT20', AT20, C_BROWN, 2.1, (0, (2.3, 1.8))),
    ('AT10', AT10, 'black', 2.3, '-'),
]
res_data = {}
for name, vals, col, lw, ls in res_curves:
    d, v = arr(rd, vals)
    res_data[name] = (d, v, col)
    ax2.plot(v, d, color=col, lw=lw, linestyle=ls, zorder=4)

# ---------------- Track 3: porosity / PEF ----------------
ax3 = make_axes(1104, 480, POR_SCALE)
dd, dv = arr(DPHZ_DEPTH, DPHZ)
nd, nv = arr(TNPH_DEPTH, TNPH)
du = np.union1d(dd, nd)
dpi_ = np.interp(du, dd, dv)
tni_ = np.interp(du, nd, nv)
ax3.fill_betweenx(du, dpi_, tni_, where=dpi_ > tni_, interpolate=True,
                  facecolor=C_YELLOW, edgecolor='black', hatch='.', linewidth=0, zorder=1)
hgrid(ax3)
for i, x in enumerate(np.linspace(POR_SCALE[0], POR_SCALE[1], 11)):
    if i == 5:
        ax3.axvline(x, color='black', lw=2.8, zorder=2)
    else:
        ax3.axvline(x, color=GRID_V, lw=1.1, zorder=2, clip_on=False)
span = POR_SCALE[0] - POR_SCALE[1]
ax3.plot(dv, dd, color='red', lw=1.2, zorder=4)
ax3.plot(nv, nd, color='blue', lw=2.8, linestyle=(0, (5.5, 3.0)), zorder=4)
ax3.plot(nv - span, nd, color='blue', lw=2.8, linestyle=(0, (5.5, 3.0)), zorder=4)

ax3p = make_twin(ax3, PEF_SCALE)
pd_, pv = arr(PEFZ_DEPTH, PEFZ)
ax3p.plot(pv, pd_, color='black', lw=2.2, linestyle=(0, (15, 4)), zorder=3)

# ---------------- Depth track (drawn last so its label overlaps track 2) ----------------
axd = make_axes(480, 143, TENS_SCALE)
for d in DEPTH_LABELS:
    big = (d % 50 == 0)
    axd.text(0.126, d, str(d), transform=axd.get_yaxis_transform(),
             ha='left', va='center', family=MONO_FONT,
             fontsize=21 if big else 14.5, fontweight='bold' if big else 'normal',
             color='black' if big else '#2a2a2a')
td, tv = arr(TENS_DEPTH, TENS)
axd.plot(tv, td, color='black', lw=2.2, linestyle=(0, (2.3, 3.7)), zorder=3)

# ---------------- curve labels ----------------
for name, dep in zip(LABEL_NAMES, LABEL_DEPTHS):
    if name in res_data:
        d, v, col = res_data[name]
        label(ax2, name, col, np.interp(dep, d, v), dep)
    elif name == 'TENS':
        label(axd, name, 'black', np.interp(dep, td, tv), dep)
    elif name == 'CALI':
        label(ax1c, name, 'black', np.interp(dep, cd, cv), dep)
    elif name == 'GR':
        label(ax1, name, C_GR, np.interp(dep, gd, gv), dep)
    elif name == 'PEFZ':
        label(ax3p, name, 'black', np.interp(dep, pd_, pv), dep)
    elif name == 'TNPH':
        label(ax3, name, 'blue', np.interp(dep, nd, nv), dep)
    elif name == 'DPHZ':
        label(ax3, name, 'red', np.interp(dep, dd, dv), dep)

fig.savefig('out.png', dpi=100, facecolor='white')
